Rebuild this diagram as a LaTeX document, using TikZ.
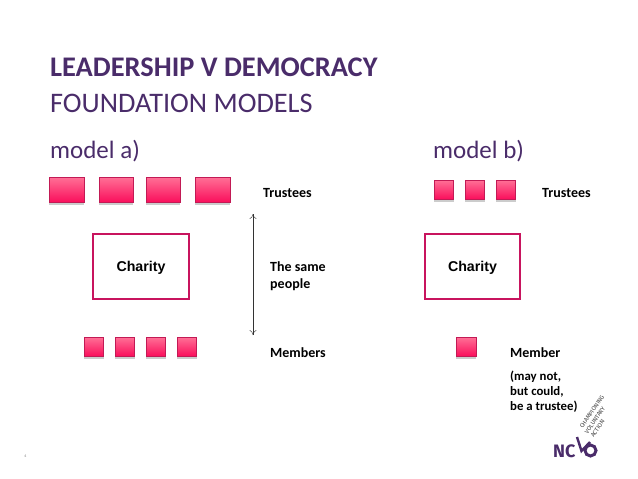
\documentclass[tikz,border=0pt]{standalone}
\usepackage{fontspec}
\setmainfont{Carlito}
\newfontfamily\charityfont{Liberation Sans}
\newfontfamily\logofont{Fira Sans}
\usetikzlibrary{shadows,arrows.meta}
\definecolor{ncvopurple}{HTML}{4A2C6A}
\definecolor{boxedge}{HTML}{C21A55}
\definecolor{charityedge}{HTML}{C8145E}
\definecolor{pinktop}{HTML}{FF7096}
\definecolor{pinkend}{HTML}{FA0F5C}
\tikzset{
  pinkbox/.style={general shadow={shadow xshift=0pt, shadow yshift=-2.5pt, fill=black, opacity=0.2}, draw=boxedge, line width=0.6pt, top color=pinktop, bottom color=pinkend, inner sep=0pt},
  charitybox/.style={draw=charityedge, line width=1.4pt, fill=white, text height=12pt, text depth=3pt, font=\charityfont\bfseries\fontsize{14.2}{16}\selectfont},
  label/.style={anchor=west, inner sep=0pt, font=\bfseries\fontsize{14}{17}\selectfont, align=left},
  heading/.style={anchor=west, inner sep=0pt, text=ncvopurple},
}
\begin{document}
\begin{tikzpicture}[x=1pt, y=-1pt]
    \useasboundingbox (0,0) rectangle (638,479);

    \node[heading, font=\bfseries\fontsize{28.4}{30}\selectfont] (title) at (50,67) {LEADERSHIP V DEMOCRACY};
    \node[heading, font=\fontsize{28.3}{30}\selectfont] (subtitle) at (50,103) {FOUNDATION MODELS};
    \node[heading, font=\fontsize{25}{28}\selectfont] (modela) at (50,151) {model a)};
    \node[heading, font=\fontsize{25}{28}\selectfont] (modelb) at (433,151) {model b)};

    % model a
    \foreach \name/\xa/\xb in {ta/49/84, tb/99/133, tc/146/180, td/195/230}
        \node[pinkbox, minimum width={(\xb-\xa)*1pt}, minimum height=25pt] (\name) at ({(\xa+\xb)/2},189.5) {};
    \foreach \name/\xa in {ma/84, mb/115, mc/146, md/177}
        \node[pinkbox, minimum width=19.5pt, minimum height=19pt] (\name) at (\xa+9.75,346.5) {};
    \node[charitybox, minimum width=96pt, minimum height=65pt] (charitya) at (141,266.5) {Charity};
    \node[label] (trusteesa) at (263,193) {Trustees};
    \node[label] (same) at (270,276) {The same\\people};
    \node[label] (members) at (270,352.5) {Members};
    \coordinate (up) at (253,214);
    \coordinate (down) at (253,335);
    \draw[{To[length=5pt,width=7pt]}-{To[length=5pt,width=7pt]}, black!80] (up) -- (down);

    % model b
    \foreach \name/\xa in {tba/434, tbb/465, tbc/496}
        \node[pinkbox, minimum width=19.5pt, minimum height=19pt] (\name) at (\xa+9.75,189.5) {};
    \node[charitybox, minimum width=95pt, minimum height=65pt] (charityb) at (472.5,266.5) {Charity};
    \node[pinkbox, minimum width=20pt, minimum height=19pt] (memberb) at (466,346.5) {};
    \node[label] (trusteesb) at (542,193) {Trustees};
    \node[label] (member) at (510,352.5) {Member};
    \node[label, font=\bfseries\fontsize{12.8}{15}\selectfont] (maynot) at (510,392) {(may not,\\but could,\\be a trustee)};

    % logo
    \node[anchor=west, inner sep=0pt, text=ncvopurple, font=\logofont\bfseries\fontsize{18}{18}\selectfont] (logonc) at (553,451) {NC};
    \node[circle, draw=ncvopurple, line width=3pt, minimum size=11pt, inner sep=0pt] (logoo) at (590.5,450.5) {};
    \coordinate (ticka) at (577,437);
    \coordinate (tickb) at (581.5,451);
    \coordinate (tickc) at (590,442);
    \draw[ncvopurple, line width=2.4pt] (ticka) -- (tickb) -- (tickc);
    \foreach \name/\px/\py/\txt in {la/581/428/CHAMPIONING, lb/586/433.5/VOLUNTARY, lc/592/437/ACTION}
        \node[anchor=west, inner sep=0pt, rotate=56, text=black!75, font=\logofont\fontsize{6}{6}\selectfont] (\name) at (\px,\py) {\txt};

    \node[text=black!50, font=\fontsize{4}{4}\selectfont, inner sep=0pt] (pagenum) at (25.5,456) {4};
\end{tikzpicture}
\end{document}
